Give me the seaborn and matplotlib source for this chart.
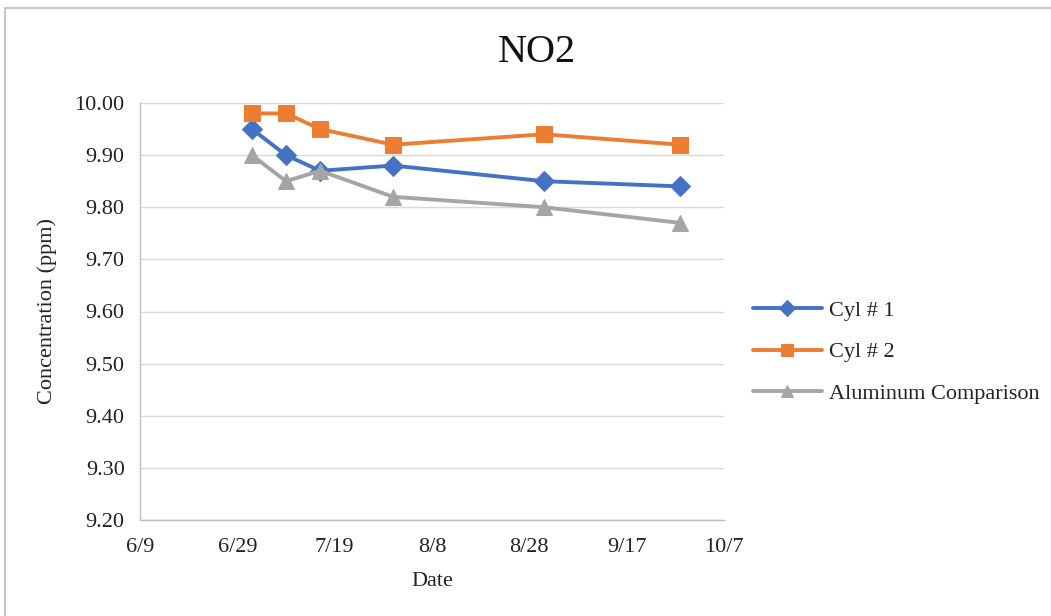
import matplotlib
matplotlib.use("Agg")
import matplotlib.pyplot as plt
import matplotlib.dates as mdates
from matplotlib.patches import Rectangle
from matplotlib.ticker import FuncFormatter, FixedLocator
import pandas as pd
import seaborn as sns

# Measurement dates and NO2 concentrations (ppm)
dates = ["2016-07-02", "2016-07-09", "2016-07-16", "2016-07-31", "2016-08-31", "2016-09-28"]
cyl1 = [9.95, 9.90, 9.87, 9.88, 9.85, 9.84]
cyl2 = [9.98, 9.98, 9.95, 9.92, 9.94, 9.92]
aluminum = [9.90, 9.85, 9.87, 9.82, 9.80, 9.77]
series_names = ["Cyl # 1", "Cyl # 2", "Aluminum Comparison"]

x_start, x_end = "2016-06-09", "2016-10-07"
x_step_days = 20
y_ticks = [9.20, 9.30, 9.40, 9.50, 9.60, 9.70, 9.80, 9.90, 10.00]

sns.set_theme(style="white")
plt.rcParams["font.family"] = ["Liberation Serif", "DejaVu Serif"]

fig = plt.figure(figsize=(10.51, 6.16), dpi=100)
ax = fig.add_axes([140 / 1051, 1 - 520 / 616, 584 / 1051, 417 / 616])

x = pd.to_datetime(dates)
styles = [
    (cyl1, "#4472C4", "D", 10),
    (cyl2, "#ED7D31", "s", 11),
    (aluminum, "#A5A5A5", "^", 11),
]
for (vals, color, marker, ms), name in zip(styles, series_names):
    sns.lineplot(x=x, y=vals, ax=ax, color=color, marker=marker, markersize=ms,
                 markeredgecolor=color, linewidth=2.8, label=name)

ax.set_xlim(pd.Timestamp(x_start), pd.Timestamp(x_end))
ax.set_ylim(y_ticks[0], y_ticks[-1])
ax.set_yticks(y_ticks)
ax.yaxis.set_major_formatter(FuncFormatter(lambda v, p: f"{v:.2f}"))
x_tick_dates = pd.date_range(x_start, x_end, freq=f"{x_step_days}D")
ax.xaxis.set_major_locator(FixedLocator(mdates.date2num(x_tick_dates)))
ax.xaxis.set_major_formatter(
    FuncFormatter(lambda v, p: f"{mdates.num2date(v).month}/{mdates.num2date(v).day}"))

ax.grid(axis="y", color="#D9D9D9", linewidth=1)
ax.grid(axis="x", visible=False)
for side in ["top", "right"]:
    ax.spines[side].set_visible(False)
for side in ["left", "bottom"]:
    ax.spines[side].set_color("#BFBFBF")
    ax.spines[side].set_linewidth(1)
ax.tick_params(axis="both", which="major", direction="out", length=5, width=1,
               color="#BFBFBF", labelsize=16, labelcolor="#222222", pad=6)
ax.tick_params(axis="x", pad=8)
ax.set_xlabel("")
ax.set_ylabel("")

fig.text(537 / 1051, 1 - 52 / 616, "NO2", ha="center", va="center",
         fontsize=29, color="#111111")
fig.text(47 / 1051, 1 - 311 / 616, "Concentration (ppm)", ha="center", va="center",
         rotation=90, fontsize=16, color="#222222")
fig.text(432 / 1051, 1 - 582 / 616, "Date", ha="center", va="center",
         fontsize=16, color="#222222")

leg = ax.legend(loc="center left", bbox_to_anchor=(733 / 1051, 1 - 352 / 616),
                bbox_transform=fig.transFigure, frameon=False, fontsize=16,
                handlelength=3.1, handletextpad=0.3, labelspacing=0.95,
                markerscale=0.8)
for t in leg.get_texts():
    t.set_color("#222222")

fig.add_artist(Rectangle((5 / 1051, -0.1), 1.1, 1 - 8 / 616 + 0.1,
                         transform=fig.transFigure, fill=False,
                         edgecolor="#C8C8C8", linewidth=1.5))

fig.savefig("out.png", dpi=100)
